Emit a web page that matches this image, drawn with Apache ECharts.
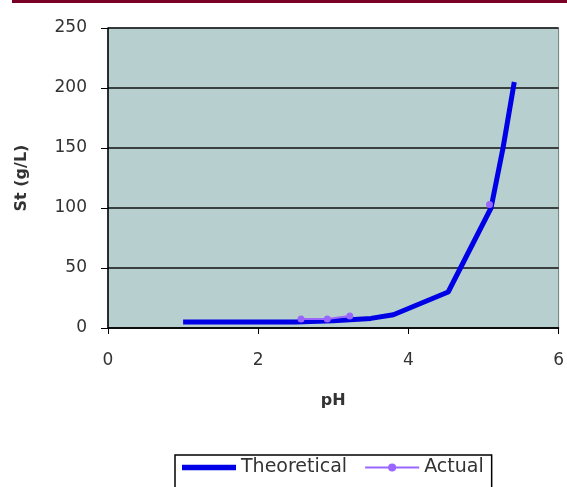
<!DOCTYPE html>
<html>
<head>
<meta charset="utf-8">
<script src="https://cdn.jsdelivr.net/npm/echarts@6/dist/echarts.min.js"></script>
<style>
  html, body { margin: 0; padding: 0; background: #fff; }
  #chart { width: 567px; height: 487px; }
</style>
</head>
<body>
<div id="chart"></div>
<script>
// theoretical curve
const theoPH = [1, 1.5, 2, 2.5, 3, 3.5, 3.8, 4.53, 5.1, 5.26, 5.41];
const theoSt = [5, 5, 5, 5, 6, 8, 11, 30, 100, 150, 205];
// measured points (null = gap in line)
const actualPH = [2.57, 2.92, 3.22, null, 5.08];
const actualSt = [7.5, 7.5, 10, null, 103];

const xTicks = [0, 2, 4, 6];
const yTicks = [0, 50, 100, 150, 200, 250];

let chart = echarts.init(document.getElementById("chart"));
chart.setOption({
  animation: false,
  textStyle: { fontFamily: "DejaVu Sans, sans-serif" },
  graphic: [
    {
      type: "rect",
      shape: { x: 12, y: 0, width: 555, height: 3 },
      style: { fill: "#7a0026" },
    },
  ],
  grid: {
    left: 108,
    top: 28,
    right: 3,
    bottom: 159,
    show: true,
    backgroundColor: "#b7cfce",
    borderColor: "#6f7f7f",
    borderWidth: 1,
  },
  legend: {
    left: 175,
    top: 455,
    orient: "horizontal",
    borderColor: "#000",
    borderWidth: 1.5,
    padding: [3, 8, 30, 7],
    itemWidth: 54,
    itemHeight: 10,
    itemGap: 17,
    textStyle: { fontSize: 19, color: "#333" },
    data: [
      { name: "Theoretical", icon: "path://M0,0 L10,0 L10,1 L0,1 Z" },
      { name: "Actual" },
    ],
  },
  xAxis: {
    type: "value",
    min: 0,
    max: 6,
    interval: 2,
    name: "pH",
    nameLocation: "middle",
    nameGap: 65,
    nameTextStyle: { fontWeight: "bold", fontSize: 16, color: "#333" },
    axisLine: { show: true, lineStyle: { color: "#000", width: 1.5 } },
    axisTick: { show: true, length: 6, lineStyle: { color: "#000" } },
    axisLabel: { fontSize: 17, color: "#333", margin: 24 },
    splitLine: { show: false },
  },
  yAxis: {
    type: "value",
    min: 0,
    max: 250,
    interval: 50,
    name: "St (g/L)",
    nameLocation: "middle",
    nameGap: 78,
    nameTextStyle: { fontWeight: "bold", fontSize: 16, color: "#333" },
    axisLine: { show: true, lineStyle: { color: "#000", width: 1.5 } },
    axisTick: { show: true, length: 7, lineStyle: { color: "#000" } },
    axisLabel: { fontSize: 17, color: "#333", margin: 21 },
    splitLine: { show: true, lineStyle: { color: "#111", width: 1.5 } },
  },
  series: [
    {
      name: "Theoretical",
      type: "line",
      data: theoPH.map((x, i) => [x, theoSt[i]]),
      showSymbol: false,
      symbol: "none",
      lineStyle: { color: "#0000e6", width: 5 },
      itemStyle: { color: "#0000e6" },
    },
    {
      name: "Actual",
      type: "line",
      data: actualPH.map((x, i) =>
        x === null ? ["-", "-"] : [x, actualSt[i]]
      ),
      connectNulls: false,
      symbol: "circle",
      symbolSize: 7,
      lineStyle: { color: "#9966ff", width: 2 },
      itemStyle: { color: "#9966ff" },
    },
  ],
});
</script>
</body>
</html>
